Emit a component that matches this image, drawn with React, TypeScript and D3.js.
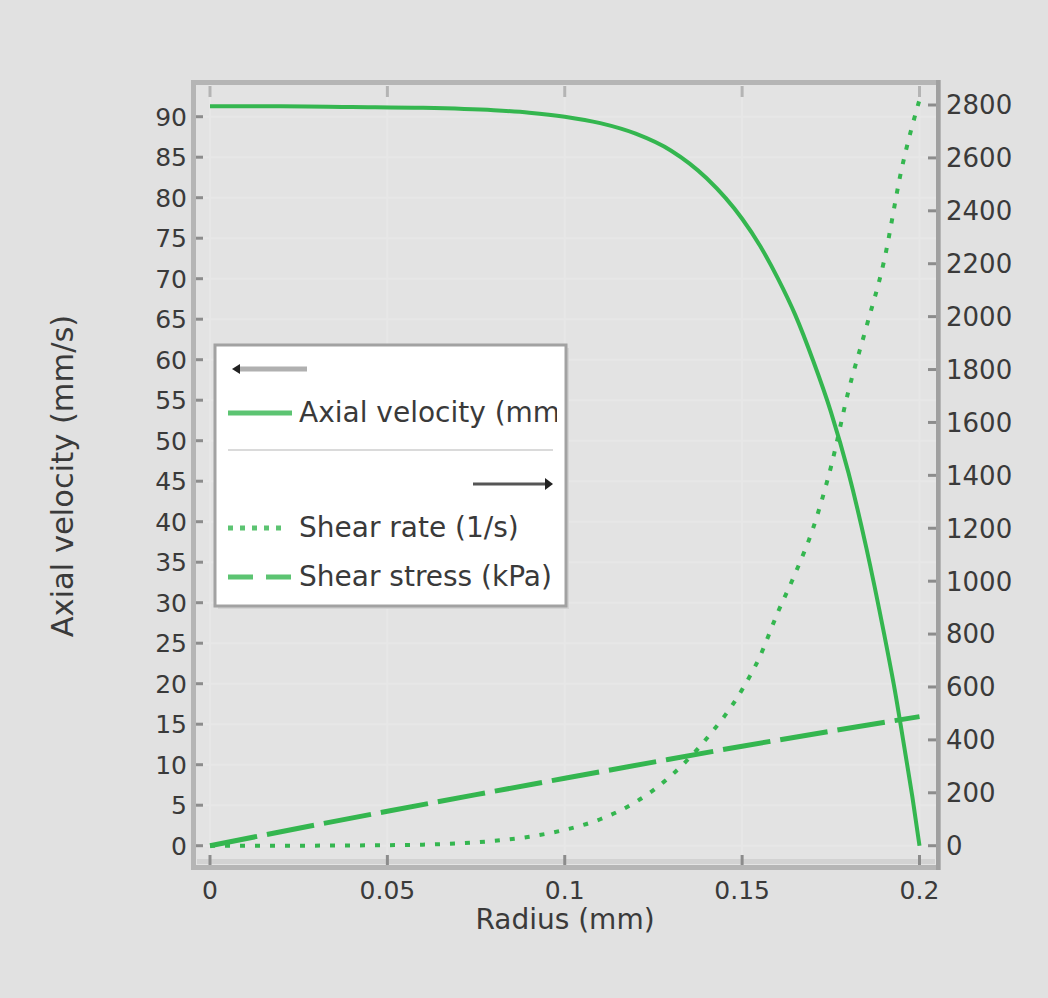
import React from 'react';
import * as d3 from 'd3';

// ---------- data ----------
const RADIUS_VELOCITY = [0, 0.02, 0.04, 0.06, 0.08, 0.09, 0.1, 0.11, 0.12, 0.13, 0.14, 0.15, 0.155, 0.16, 0.165, 0.17, 0.175, 0.18, 0.185, 0.19, 0.193, 0.196, 0.198, 0.2];
const AXIAL_VELOCITY = [91.3, 91.3, 91.2, 91.1, 90.8, 90.5, 90.0, 89.2, 87.9, 85.8, 82.4, 77.4, 74.1, 70.1, 65.5, 59.9, 53.6, 46.0, 36.8, 26.2, 19.3, 11.4, 6.0, 0];

const RADIUS_RATE = [0, 0.02, 0.04, 0.06, 0.07, 0.08, 0.09, 0.1, 0.11, 0.12, 0.13, 0.14, 0.15, 0.155, 0.16, 0.165, 0.17, 0.175, 0.18, 0.185, 0.19, 0.195, 0.2];
const SHEAR_RATE = [0, 0, 1, 4, 9, 18, 34, 60, 100, 165, 265, 405, 590, 715, 880, 1030, 1200, 1430, 1720, 1960, 2210, 2560, 2820];

const RADIUS_STRESS = [0, 0.025, 0.05, 0.075, 0.1, 0.125, 0.15, 0.175, 0.2];
const SHEAR_STRESS = [0, 66, 130, 193, 255, 316, 376, 433, 488];

const X_TICKS = [0, 0.05, 0.1, 0.15, 0.2];
const X_TICK_LABELS = ['0', '0.05', '0.1', '0.15', '0.2'];
const LEFT_TICKS = [0, 5, 10, 15, 20, 25, 30, 35, 40, 45, 50, 55, 60, 65, 70, 75, 80, 85, 90];
const RIGHT_TICKS = [0, 200, 400, 600, 800, 1000, 1200, 1400, 1600, 1800, 2000, 2200, 2400, 2600, 2800];

const X_TITLE = 'Radius (mm)';
const Y_TITLE = 'Axial velocity (mm/s)';
const LEGEND_LABELS = ['Axial velocity (mm/s)', 'Shear rate (1/s)', 'Shear stress (kPa)'];

// ---------- layout ----------
const W = 1048;
const H = 998;
const PL = 194, PR = 938, PT = 83, PB = 867;
const FONT = '"DejaVu Sans", sans-serif';
const GREEN = '#34b64f';
const TEXT = '#3a3a3a';

export default function App() {
  const x = d3.scaleLinear().domain([0, 0.2]).range([210, 919.5]);
  const yL = d3.scaleLinear().domain([0, 90]).range([845.7, 116.7]);
  const yR = d3.scaleLinear().domain([0, 2800]).range([845.7, 105]);

  const velLine = d3.line<number>()
    .x((_, i) => x(RADIUS_VELOCITY[i]))
    .y((d) => yL(d))
    .curve(d3.curveMonotoneX);
  const rateLine = d3.line<number>()
    .x((_, i) => x(RADIUS_RATE[i]))
    .y((d) => yR(d))
    .curve(d3.curveMonotoneX);
  const stressLine = d3.line<number>()
    .x((_, i) => x(RADIUS_STRESS[i]))
    .y((d) => yR(d))
    .curve(d3.curveMonotoneX);

  // legend geometry
  const LX = 215, LY = 345, LW = 351, LH = 261;

  return (
    <div style={{ position: 'fixed', left: 0, top: 0, width: W, height: H }}>
      <svg width={W} height={H} style={{ display: 'block' }} fontFamily={FONT}>
        <defs>
          <clipPath id="plotClip">
            <rect x={PL + 3} y={PT + 3} width={PR - PL - 6} height={PB - PT - 6} />
          </clipPath>
          <clipPath id="legendClip">
            <rect x={LX + 3} y={LY + 3} width={LW - 12} height={LH - 6} />
          </clipPath>
        </defs>
        <rect x={0} y={0} width={W} height={H} fill="#e1e1e1" />

        {/* plot area */}
        <rect x={PL} y={PT} width={PR - PL} height={PB - PT} fill="#e3e3e3" />
        {/* grid */}
        <g stroke="#e7e7e7" strokeWidth={2}>
          {X_TICKS.map((t) => (
            <line key={'gx' + t} x1={x(t)} x2={x(t)} y1={PT} y2={PB} />
          ))}
          {LEFT_TICKS.map((t) => (
            <line key={'gy' + t} x1={PL} x2={PR} y1={yL(t)} y2={yL(t)} />
          ))}
        </g>
        {/* inner bottom light band */}
        <rect x={PL + 3} y={PB - 8} width={PR - PL - 6} height={5} fill="#d2d2d2" />

        {/* ticks */}
        <g stroke="#8c8c8c" strokeWidth={3}>
          {X_TICKS.map((t) => (
            <line key={'bt' + t} x1={x(t)} x2={x(t)} y1={PB - 12} y2={PB - 2} />
          ))}
          {LEFT_TICKS.map((t) => (
            <line key={'lt' + t} x1={PL} x2={PL + 9} y1={yL(t)} y2={yL(t)} />
          ))}
          {RIGHT_TICKS.map((t) => (
            <line key={'rt' + t} x1={PR - 10} x2={PR} y1={yR(t)} y2={yR(t)} />
          ))}
        </g>
        <g stroke="#b4b4b4" strokeWidth={3}>
          {X_TICKS.map((t) => (
            <line key={'tt' + t} x1={x(t)} x2={x(t)} y1={PT + 3} y2={PT + 14} />
          ))}
        </g>

        {/* curves */}
        <g clipPath="url(#plotClip)" fill="none">
          <path d={stressLine(SHEAR_STRESS) || ''} stroke={GREEN} strokeWidth={5} strokeDasharray="48 10" />
          <path d={rateLine(SHEAR_RATE) || ''} stroke={GREEN} strokeWidth={4} strokeDasharray="5 10" />
          <path d={velLine(AXIAL_VELOCITY) || ''} stroke={GREEN} strokeWidth={4} />
        </g>

        {/* frame */}
        <rect x={PL - 0.5} y={PT - 0.5} width={PR - PL + 1} height={PB - PT + 1} fill="none" stroke="#b5b5b5" strokeWidth={5} />
        <line x1={PR} x2={PR} y1={PT - 3} y2={PB + 3} stroke="#a0a0a0" strokeWidth={4} />

        {/* tick labels */}
        <g fontSize={25} fill={TEXT}>
          {LEFT_TICKS.map((t) => (
            <text key={'ll' + t} x={187} y={yL(t)} dy="0.36em" textAnchor="end">{t}</text>
          ))}
          {X_TICKS.map((t, i) => (
            <text key={'xl' + t} x={x(t)} y={899} textAnchor="middle">{X_TICK_LABELS[i]}</text>
          ))}
        </g>
        <g fontSize={26} fill={TEXT}>
          {RIGHT_TICKS.map((t) => (
            <text key={'rl' + t} x={946} y={yR(t)} dy="0.36em" textAnchor="start">{t}</text>
          ))}
        </g>

        {/* axis titles */}
        <text x={565} y={929} fontSize={28} fill={TEXT} textAnchor="middle">{X_TITLE}</text>
        <text transform="translate(73,476) rotate(-90)" fontSize={30.5} fill={TEXT} textAnchor="middle">{Y_TITLE}</text>

        {/* legend */}
        <rect x={LX + 3} y={LY + 3} width={LW} height={LH} fill="#d4d4d4" />
        <rect x={LX} y={LY} width={LW} height={LH} fill="#ffffff" stroke="#a2a2a2" strokeWidth={3} />
        <g clipPath="url(#legendClip)">
          {/* left-axis indicator */}
          <line x1={236} x2={307} y1={369} y2={369} stroke="#b0b0b0" strokeWidth={5} />
          <path d="M232,369 L240,364 L240,374 Z" fill="#222" />
          {/* velocity */}
          <line x1={228} x2={292} y1={413} y2={413} stroke={GREEN} strokeWidth={5} opacity={0.8} />
          <text x={299} y={422} fontSize={28} fill={TEXT}>{LEGEND_LABELS[0]}</text>
          {/* separator */}
          <line x1={228} x2={553} y1={450} y2={450} stroke="#dadada" strokeWidth={2} />
          {/* right-axis indicator */}
          <line x1={473} x2={549} y1={484} y2={484} stroke="#555" strokeWidth={3} />
          <path d="M553,484 L545,478 L545,490 Z" fill="#222" />
          {/* shear rate */}
          <line x1={228} x2={283} y1={528} y2={528} stroke={GREEN} strokeWidth={5} strokeDasharray="5 7" opacity={0.8} />
          <text x={299} y={537} fontSize={28} fill={TEXT}>{LEGEND_LABELS[1]}</text>
          {/* shear stress */}
          <line x1={228} x2={292} y1={577} y2={577} stroke={GREEN} strokeWidth={5} strokeDasharray="25 13" opacity={0.8} />
          <text x={299} y={586} fontSize={28} fill={TEXT}>{LEGEND_LABELS[2]}</text>
        </g>
      </svg>
    </div>
  );
}
